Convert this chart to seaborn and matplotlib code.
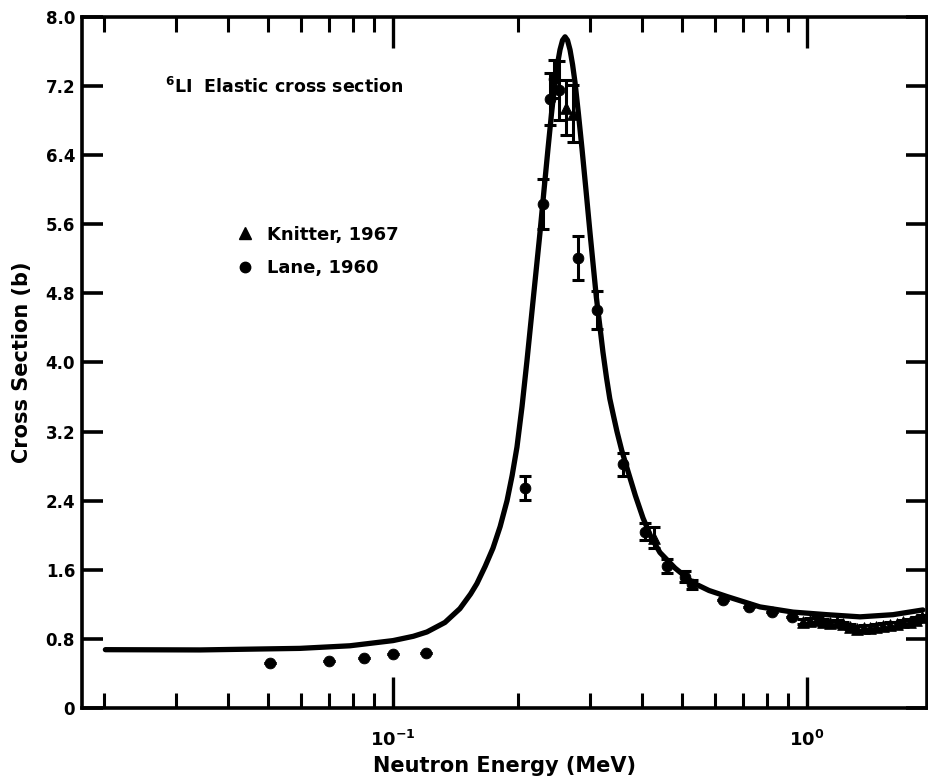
import matplotlib
matplotlib.use("Agg")
import matplotlib.pyplot as plt
from matplotlib.ticker import FixedLocator, NullFormatter, LogLocator
from matplotlib.lines import Line2D
import seaborn as sns
import pandas as pd

# ---- data ----
curve_E = [0.0202, 0.0342, 0.0596, 0.0787, 0.1000, 0.1120, 0.1208, 0.1335, 0.1451,
           0.1540, 0.1595, 0.1670, 0.1744, 0.1815, 0.1886, 0.1940, 0.1993,
           0.2050, 0.2107, 0.2178, 0.2220, 0.2265, 0.2315, 0.2368, 0.2415,
           0.2462, 0.2500, 0.2532, 0.2568, 0.2604, 0.2640, 0.2677, 0.2715,
           0.2753, 0.2805, 0.2862, 0.2925, 0.2992, 0.3100, 0.3160, 0.3215,
           0.3280, 0.3340, 0.3410, 0.3476, 0.3570, 0.3674, 0.3850, 0.4017,
           0.4200, 0.4414, 0.4800, 0.5303, 0.5800, 0.6410, 0.7700, 0.9252,
           1.118, 1.343, 1.613, 1.905]
curve_sigma = [0.675, 0.672, 0.69, 0.72, 0.78, 0.83, 0.88, 0.99, 1.15,
               1.32, 1.44, 1.64, 1.85, 2.10, 2.40, 2.69, 3.02,
               3.49, 4.02, 4.70, 5.09, 5.50, 5.98, 6.47, 6.88,
               7.24, 7.47, 7.62, 7.73, 7.77, 7.73, 7.62, 7.45,
               7.24, 6.88, 6.47, 6.00, 5.50, 4.75, 4.42, 4.12,
               3.82, 3.58, 3.38, 3.20, 2.98, 2.78, 2.46, 2.20,
               1.98, 1.80, 1.62, 1.45, 1.36, 1.29, 1.17, 1.11,
               1.08, 1.055, 1.08, 1.135]

lane_E = [0.0505, 0.0700, 0.0851, 0.1000, 0.1201, 0.2084, 0.2303, 0.2394,
          0.2448, 0.2518, 0.2798, 0.3110, 0.3594, 0.4061, 0.4589, 0.5074,
          0.5275, 0.6267, 0.7244, 0.8232, 0.9201]
lane_sigma = [0.52, 0.545, 0.58, 0.625, 0.64, 2.55, 5.83, 7.05,
              7.28, 7.15, 5.21, 4.61, 2.82, 2.04, 1.64, 1.52,
              1.43, 1.25, 1.17, 1.11, 1.05]
lane_err = [0, 0, 0, 0, 0, 0.14, 0.29, 0.30,
            0.22, 0.34, 0.25, 0.22, 0.13, 0.10, 0.08, 0.06,
            0.05, 0, 0, 0, 0]

knit_E = [0.2618, 0.2722, 0.4270, 0.978, 1.015, 1.057, 1.095, 1.137, 1.180,
          1.222, 1.270, 1.321, 1.370, 1.420, 1.470, 1.526, 1.585, 1.650,
          1.710, 1.774, 1.835, 1.896]
knit_sigma = [6.95, 6.88, 1.97, 1.00, 1.01, 1.02, 1.00, 0.98, 0.99,
              0.97, 0.94, 0.92, 0.93, 0.93, 0.94, 0.95, 0.96, 0.97,
              0.99, 1.00, 1.02, 1.05]
knit_err = [0.32, 0.33, 0.12, 0.03, 0.03, 0.03, 0.03, 0.03, 0.03,
            0.03, 0.03, 0.03, 0.03, 0.03, 0.03, 0.03, 0.03, 0.03,
            0.03, 0.03, 0.03, 0.03]

y_ticks = [0, 0.8, 1.6, 2.4, 3.2, 4.0, 4.8, 5.6, 6.4, 7.2, 8.0]
y_labels = ["0", "0.8", "1.6", "2.4", "3.2", "4.0", "4.8", "5.6", "6.4", "7.2", "8.0"]
x_ticks = [0.1, 1.0]
x_labels = [r"$\mathbf{10^{-1}}$", r"$\mathbf{10^{0}}$"]

curve_df = pd.DataFrame({"E": curve_E, "sigma": curve_sigma})
lane_df = pd.DataFrame({"E": lane_E, "sigma": lane_sigma, "err": lane_err})
knit_df = pd.DataFrame({"E": knit_E, "sigma": knit_sigma, "err": knit_err})

# ---- style ----
sns.set_theme(style="ticks")
plt.rcParams["font.family"] = ["DejaVu Sans"]
plt.rcParams["font.weight"] = "bold"
plt.rcParams["mathtext.default"] = "bf"
for k in ["text.color", "axes.labelcolor", "xtick.color", "ytick.color", "axes.edgecolor"]:
    plt.rcParams[k] = "black"

fig = plt.figure(figsize=(9.29, 7.81), dpi=100)
fig.patch.set_facecolor("white")
ax = fig.add_axes([0.0883, 0.0935, 0.9096, 0.8848])
ax.set_facecolor("white")
ax.set_xscale("log")

sns.lineplot(data=curve_df, x="E", y="sigma", color="black", linewidth=3.8,
             ax=ax, legend=False)

ax.errorbar(lane_df["E"], lane_df["sigma"], yerr=lane_df["err"], fmt="none",
            ecolor="black", elinewidth=2.2, capsize=4, capthick=2.2)
ax.errorbar(knit_df["E"], knit_df["sigma"], yerr=knit_df["err"], fmt="none",
            ecolor="black", elinewidth=2.2, capsize=4, capthick=2.2)

sns.scatterplot(data=lane_df, x="E", y="sigma", marker="o", color="black",
                edgecolor="black", s=60, ax=ax, legend=False, zorder=3)
sns.scatterplot(data=knit_df, x="E", y="sigma", marker="^", color="black",
                edgecolor="black", s=70, ax=ax, legend=False, zorder=3)

ax.set_xlim(0.01774, 1.950)
ax.set_ylim(0, 8.0)

ax.xaxis.set_major_locator(FixedLocator(x_ticks))
ax.set_xticklabels(x_labels)
ax.xaxis.set_minor_locator(LogLocator(base=10, subs=[2, 3, 4, 5, 6, 7, 8, 9]))
ax.xaxis.set_minor_formatter(NullFormatter())
ax.yaxis.set_major_locator(FixedLocator(y_ticks))
ax.set_yticklabels(y_labels)

for s in ax.spines.values():
    s.set_linewidth(2.6)
    s.set_color("black")

ax.tick_params(axis="x", which="major", direction="in", top=True, bottom=True,
               length=22, width=2.4, labelsize=13, pad=16, color="black")
ax.tick_params(axis="x", which="minor", direction="in", top=True, bottom=True,
               length=11, width=2.2, color="black")
ax.tick_params(axis="y", which="major", direction="in", left=True, right=True,
               length=15, width=2.6, labelsize=12, pad=5, color="black")

ax.set_xlabel("Neutron Energy (MeV)", fontsize=15, fontweight="bold", labelpad=4)
ax.set_ylabel("Cross Section (b)", fontsize=15, fontweight="bold", labelpad=10)

ax.text(0.098, 0.899, r"$^{6}$LI  Elastic cross section", transform=ax.transAxes,
        fontsize=12.5, fontweight="bold", va="center", ha="left")

handles = [Line2D([], [], marker="^", color="black", linestyle="none", markersize=9),
           Line2D([], [], marker="o", color="black", linestyle="none", markersize=7.5)]
ax.legend(handles, ["Knitter, 1967", "Lane, 1960"], loc="upper left",
          bbox_to_anchor=(0.182, 0.698), frameon=False, handlelength=1.0,
          handletextpad=0.7, labelspacing=0.85, borderpad=0, borderaxespad=0,
          prop={"weight": "bold", "size": 13})

fig.savefig("out.png", dpi=100, facecolor="white")
